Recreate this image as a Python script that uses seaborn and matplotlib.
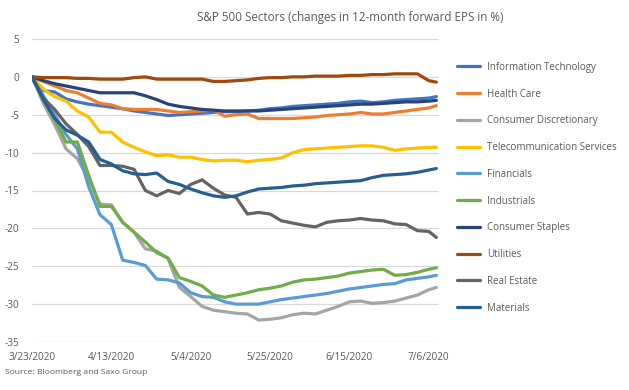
import numpy as np
import pandas as pd
import matplotlib
matplotlib.use("Agg")
import matplotlib.pyplot as plt
import matplotlib.dates as mdates
import seaborn as sns

# every 3 days from 3/23/2020, last point 7/8/2020
day_offsets = [0, 3, 6, 9, 12, 15, 18, 21, 24, 27, 30, 33, 36, 39, 42, 45, 48, 51, 54,
               57, 60, 63, 66, 69, 72, 75, 78, 81, 84, 87, 90, 93, 96, 99, 102, 105, 107]
dates = pd.Timestamp("2020-03-23") + pd.to_timedelta(day_offsets, unit="D")

sectors = ["Information Technology", "Health Care", "Consumer Discretionary",
           "Telecommunication Services", "Financials", "Industrials",
           "Consumer Staples", "Utilities", "Real Estate", "Materials"]
colors = ["#4472C4", "#ED7D31", "#A5A5A5", "#FFC000", "#5B9BD5",
          "#70AD47", "#264478", "#9E480E", "#636363", "#255E91"]

info_tech = [0, -1.8, -2.0, -2.9, -3.3, -3.6, -3.8, -4.0, -4.2, -4.5, -4.7, -4.9, -5.1,
             -5.0, -4.9, -4.8, -4.7, -4.6, -4.6, -4.5, -4.4, -4.2, -4.1, -3.9, -3.8, -3.7,
             -3.6, -3.5, -3.3, -3.2, -3.4, -3.3, -3.1, -3.0, -2.9, -2.8, -2.6]
health_care = [0, -0.6, -1.2, -1.8, -2.1, -2.8, -3.5, -3.7, -4.2, -4.3, -4.3, -4.3, -4.5,
               -4.7, -4.6, -4.5, -4.4, -5.2, -5.0, -4.9, -5.5, -5.5, -5.5, -5.5, -5.4, -5.3,
               -5.1, -5.0, -4.9, -4.7, -4.9, -4.9, -4.7, -4.5, -4.3, -4.1, -3.8]
cons_disc = [0, -3.5, -6.3, -9.5, -10.8, -13.5, -16.8, -16.9, -19.2, -20.5, -22.7, -23.0,
             -24.0, -27.8, -29.0, -30.3, -30.8, -31.0, -31.2, -31.3, -32.1, -32.0, -31.8,
             -31.4, -31.2, -31.3, -30.8, -30.3, -29.7, -29.6, -29.9, -29.8, -29.6, -29.2,
             -28.8, -28.1, -27.8]
telecom = [0, -1.6, -2.6, -3.2, -4.5, -5.3, -7.3, -7.3, -8.6, -9.3, -9.9, -10.4, -10.3,
           -10.6, -10.6, -10.9, -11.1, -11.0, -11.0, -11.2, -11.0, -10.9, -10.7, -10.0,
           -9.6, -9.5, -9.4, -9.3, -9.2, -9.1, -9.1, -9.3, -9.7, -9.5, -9.4, -9.3, -9.3]
financials = [0, -2.5, -5.0, -7.6, -9.5, -14.5, -18.2, -19.5, -24.2, -24.5, -24.9, -26.7,
              -26.8, -27.2, -28.5, -29.0, -29.1, -29.7, -30.0, -30.0, -30.0, -29.7, -29.4,
              -29.2, -29.0, -28.8, -28.6, -28.3, -28.0, -27.8, -27.6, -27.4, -27.3, -26.8,
              -26.6, -26.4, -26.2]
industrials = [0, -3.0, -5.6, -8.6, -8.6, -13.0, -17.1, -17.1, -19.2, -20.5, -21.8, -23.2,
               -23.9, -26.5, -27.0, -27.6, -28.8, -29.1, -28.8, -28.5, -28.1, -27.9, -27.6,
               -27.1, -26.8, -26.7, -26.5, -26.3, -25.9, -25.7, -25.5, -25.4, -26.2, -26.1,
               -25.8, -25.4, -25.2]
cons_staples = [0, -0.5, -0.9, -1.2, -1.5, -1.8, -2.1, -2.1, -2.1, -2.1, -2.5, -3.0, -3.6,
                -3.9, -4.1, -4.3, -4.4, -4.5, -4.5, -4.5, -4.5, -4.4, -4.3, -4.2, -4.1,
                -4.0, -3.9, -3.8, -3.7, -3.6, -3.6, -3.5, -3.4, -3.3, -3.3, -3.2, -3.1]
utilities = [0, -0.1, -0.1, -0.1, -0.2, -0.2, -0.3, -0.3, -0.3, -0.1, 0.0, -0.3, -0.3,
             -0.3, -0.3, -0.3, -0.6, -0.6, -0.5, -0.4, -0.2, -0.1, -0.1, 0.0, 0.0, 0.1,
             0.1, 0.1, 0.2, 0.2, 0.3, 0.3, 0.4, 0.4, 0.4, -0.5, -0.7]
real_estate = [0, -2.8, -4.3, -6.2, -7.6, -9.2, -11.7, -11.7, -11.8, -12.2, -15.0, -15.7,
               -15.0, -15.4, -14.2, -13.6, -14.7, -15.6, -15.9, -18.1, -17.9, -18.1, -19.0,
               -19.3, -19.6, -19.8, -19.2, -19.0, -18.9, -18.7, -18.9, -19.0, -19.4, -19.5,
               -20.3, -20.4, -21.2]
materials = [0, -3.0, -5.5, -7.0, -7.7, -8.6, -10.9, -11.5, -12.4, -12.8, -12.9, -12.7,
             -13.8, -14.2, -14.8, -15.3, -15.7, -15.9, -15.7, -15.2, -14.8, -14.7, -14.6,
             -14.4, -14.3, -14.1, -14.0, -13.9, -13.8, -13.7, -13.3, -13.0, -12.9, -12.8,
             -12.6, -12.3, -12.1]

series = [info_tech, health_care, cons_disc, telecom, financials, industrials,
          cons_staples, utilities, real_estate, materials]

frames = []
for name, vals in zip(sectors, series):
    frames.append(pd.DataFrame({"date": dates, "value": vals, "sector": name}))
df = pd.concat(frames, ignore_index=True)

sns.set_style("white")
plt.rcParams["font.family"] = ["Open Sans", "DejaVu Sans"]
plt.rcParams["axes.unicode_minus"] = False
text_col = "#595959"

fig = plt.figure(figsize=(6.29, 3.9), dpi=100)
ax = fig.add_axes([32 / 629, 1 - 342 / 390, (439 - 32) / 629, (342 - 39) / 390])

sns.lineplot(data=df, x="date", y="value", hue="sector", hue_order=sectors,
             palette=colors, linewidth=2.3, ax=ax, legend=False)

ax.set_ylim(-35, 5)
ax.set_yticks(np.arange(-35, 6, 5))
ax.set_xlim(pd.Timestamp("2020-03-23"), pd.Timestamp("2020-03-23") + pd.Timedelta(days=107.7))
ax.set_xticks(pd.date_range("2020-03-23", "2020-07-06", freq="21D"))
ax.xaxis.set_major_formatter(mdates.DateFormatter("%-m/%-d/%Y"))
ax.grid(axis="y", color="#d9d9d9", linewidth=0.9)
ax.grid(axis="x", visible=False)
for s in ax.spines.values():
    s.set_visible(False)
ax.tick_params(axis="both", length=0, labelsize=7.2, colors=text_col)
ax.tick_params(axis="y", pad=9)
ax.tick_params(axis="x", pad=7)
ax.set_xlabel("")
ax.set_ylabel("")

handles = [plt.Line2D([], [], color=c, linewidth=2.3) for c in colors]
fig.legend(handles, sectors, loc="upper left", bbox_to_anchor=(453 / 629, 1 - 58 / 390),
           frameon=False, fontsize=7.0, labelcolor=text_col, handlelength=2.4,
           handletextpad=0.7, labelspacing=1.62, borderaxespad=0)

fig.text(350 / 629, 1 - 17 / 390, "S&P 500 Sectors (changes in 12-month forward EPS in %)",
         ha="center", va="center", fontsize=8.4, color=text_col)
fig.text(5 / 629, 1 - 373 / 390, "Source: Bloomberg and Saxo Group",
         ha="left", va="center", fontsize=6.1, color=text_col)

fig.savefig("out.png", dpi=100)
